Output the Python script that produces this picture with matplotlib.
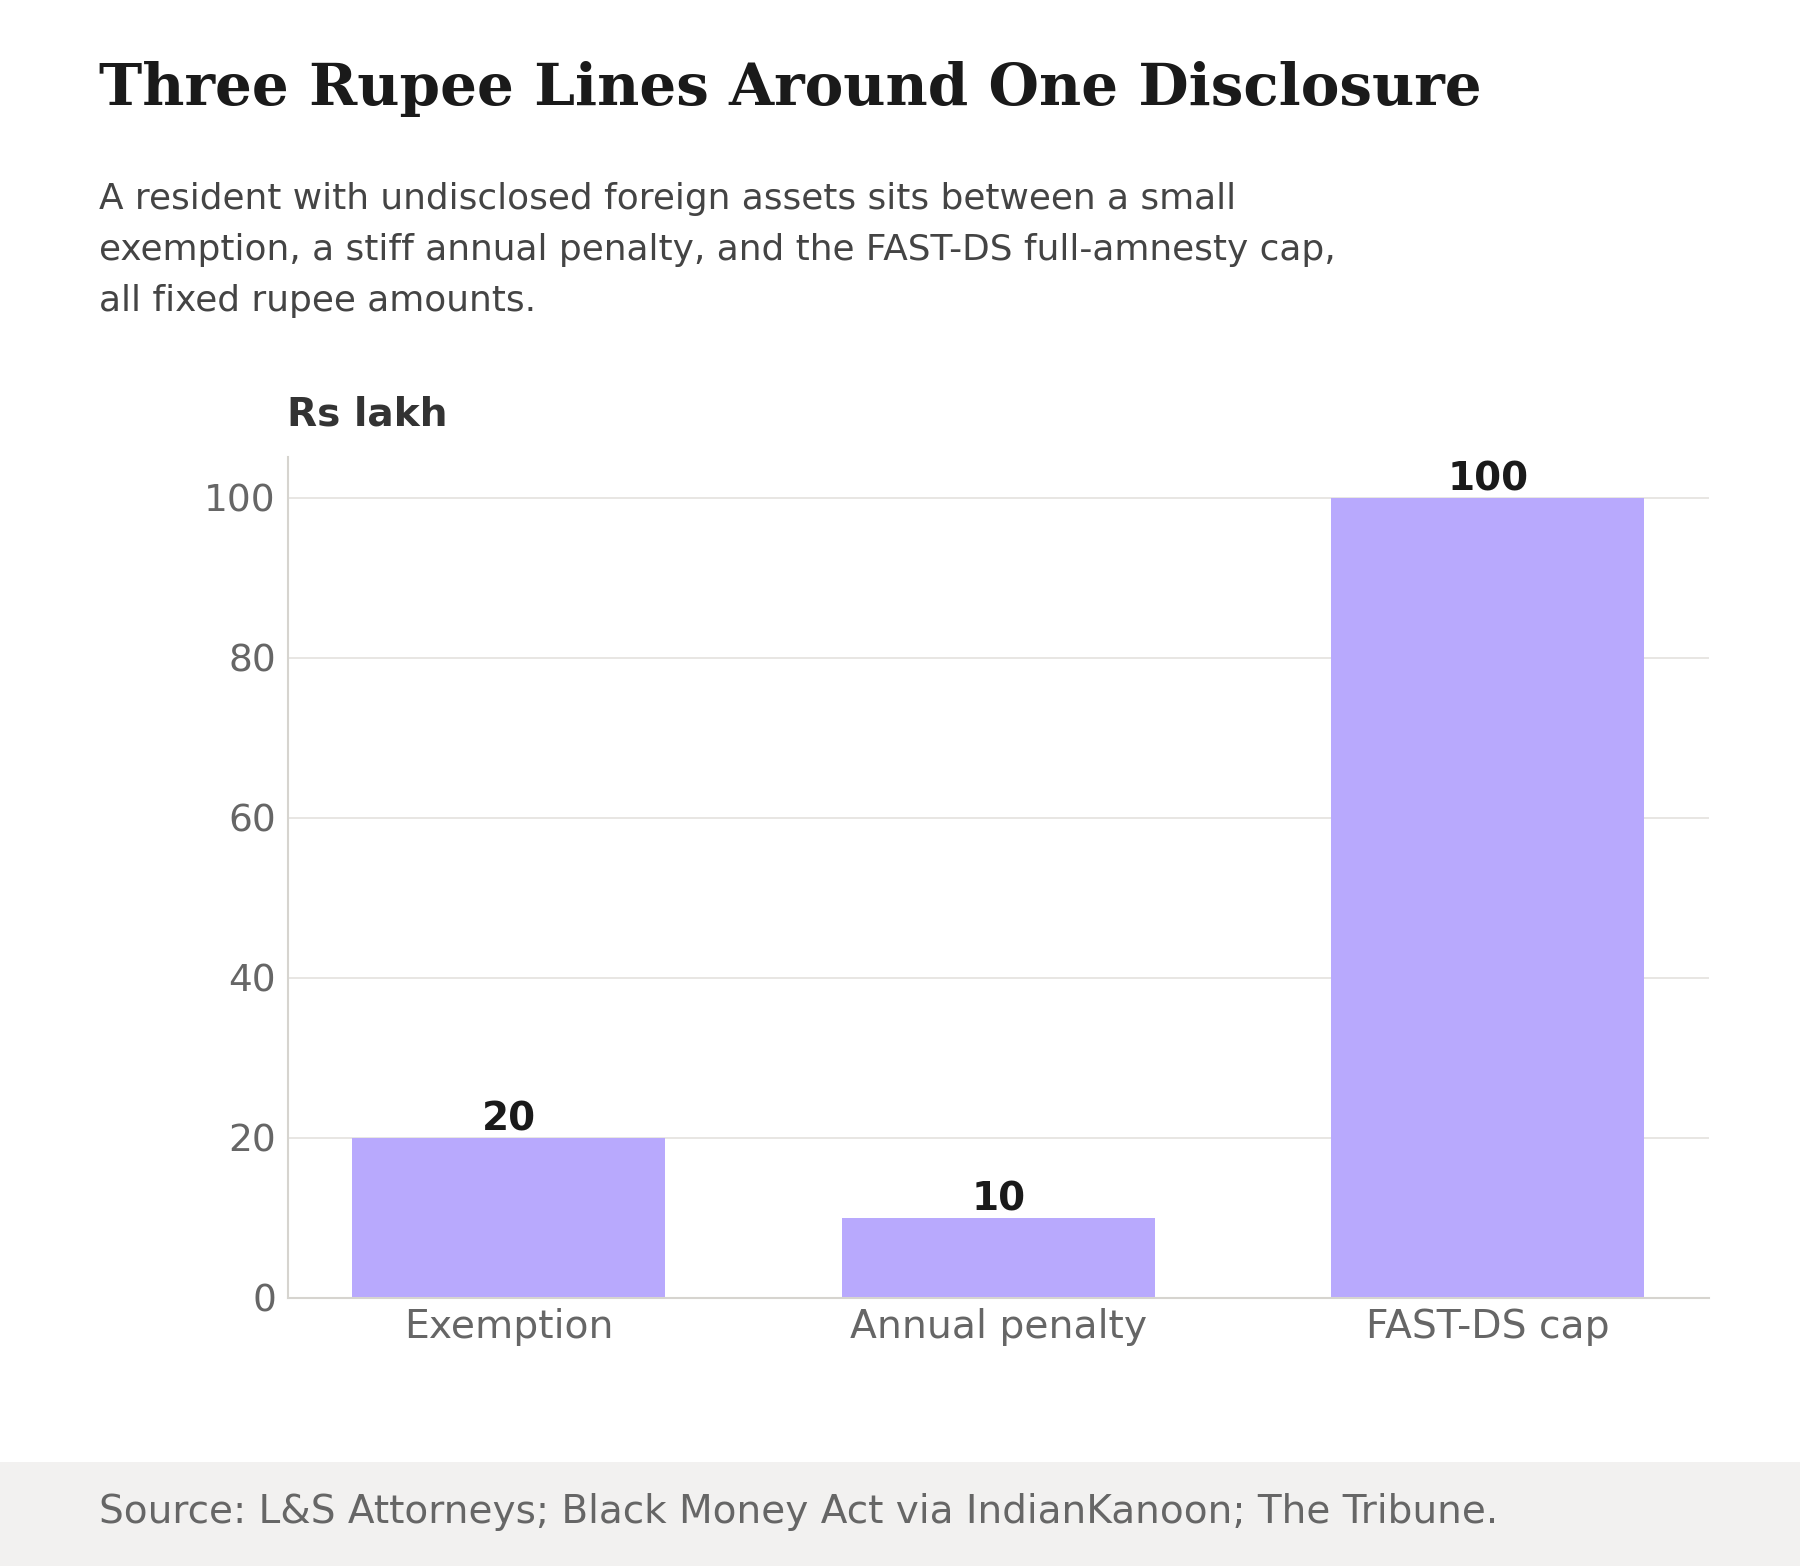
import matplotlib
matplotlib.use("Agg")
import matplotlib.pyplot as plt
from matplotlib.patches import Rectangle

# data
categories = ["Exemption", "Annual penalty", "FAST-DS cap"]
values = [20, 10, 100]
yticks = [0, 20, 40, 60, 80, 100]

title = "Three Rupee Lines Around One Disclosure"
subtitle_lines = [
    "A resident with undisclosed foreign assets sits between a small",
    "exemption, a stiff annual penalty, and the FAST-DS full-amnesty cap,",
    "all fixed rupee amounts.",
]
unit_label = "Rs lakh"
source = "Source: L&S Attorneys; Black Money Act via IndianKanoon; The Tribune."

bar_color = "#b8a9fd"
H = 1566.0

fig = plt.figure(figsize=(18, 15.66), dpi=100)
fig.patch.set_facecolor("white")

# footer band
fig.patches.append(Rectangle((0, 0), 1, 1 - 1462 / H, transform=fig.transFigure,
                             facecolor="#f2f1f0", edgecolor="none", zorder=0))

ax = fig.add_axes([287.5 / 1800, 1 - 1297.7 / H, (1709 - 287.5) / 1800, (1297.7 - 456.7) / H])
x = range(len(categories))
bars = ax.bar(x, values, width=0.64, color=bar_color, zorder=2)

ax.set_xlim(-0.452, 2.452)
ax.set_ylim(0, 105.1)
ax.set_yticks(yticks)
ax.set_xticks(list(x))
ax.set_xticklabels(categories)
ax.yaxis.grid(True, color="#e4e2de", linewidth=1.2, zorder=0)
ax.set_axisbelow(True)
for s in ["top", "right"]:
    ax.spines[s].set_visible(False)
for s in ["left", "bottom"]:
    ax.spines[s].set_color("#d6d4cf")
    ax.spines[s].set_linewidth(1.5)
ax.tick_params(axis="y", length=0, pad=8.3, labelsize=27, labelcolor="#666666")
ax.tick_params(axis="x", length=0, pad=7.5, labelsize=28.3, labelcolor="#666666")

for b, v in zip(bars, values):
    ax.annotate(f"{v}", (b.get_x() + b.get_width() / 2, v), xytext=(0, -0.8),
                textcoords="offset points", ha="center", va="bottom",
                fontsize=28, fontweight="bold", color="#1a1a1a")

left = 0.0552
fig.text(left, 1 - 105 / H, title, fontsize=41.8, fontweight="bold",
         family="DejaVu Serif", color="#1a1a1a", va="baseline", ha="left")
for i, line in enumerate(subtitle_lines):
    fig.text(left, 1 - (209 + 51 * i) / H, line, fontsize=25.8, color="#444444",
             va="baseline", ha="left")
fig.text(287 / 1800, 1 - 425 / H, unit_label, fontsize=28.1, fontweight="bold",
         color="#333333", va="baseline", ha="left")
fig.text(left, 1 - 1523.3 / H, source, fontsize=28.1, color="#666666",
         va="baseline", ha="left")

fig.savefig("out.png", dpi=100, facecolor="white")
